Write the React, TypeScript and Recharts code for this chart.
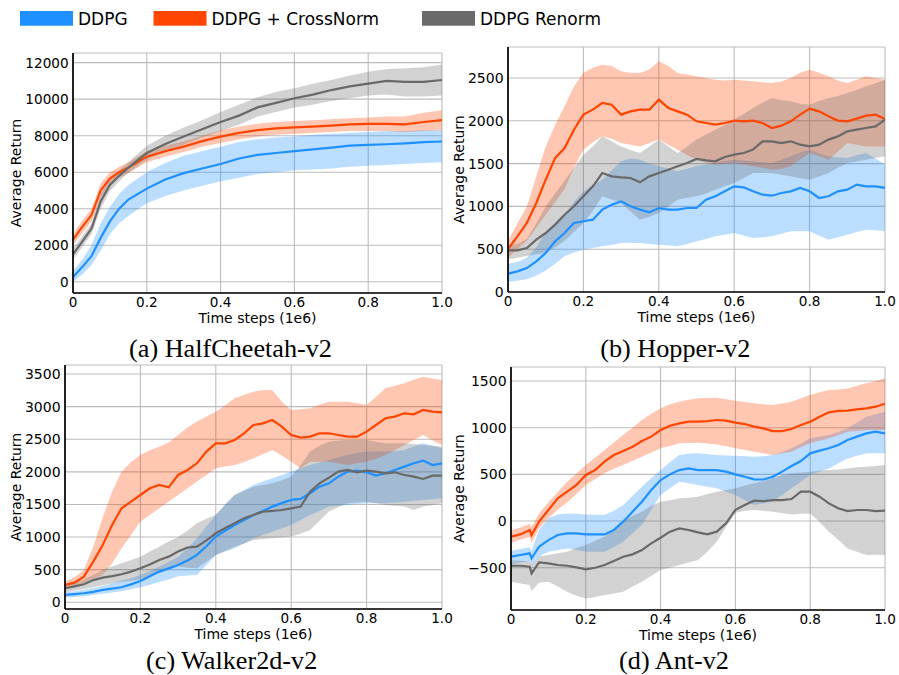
import React from 'react';
import { ComposedChart, Area, Line, XAxis, YAxis, CartesianGrid } from 'recharts';

// ---------- colours and fonts ----------
const BLUE = '#1E90FF';
const ORANGE = '#FF4500';
const GRAY = '#696969';
const SANS = '"DejaVu Sans", "Noto Sans", sans-serif';
const SERIF = '"Liberation Serif", "DejaVu Serif", serif';

// ---------- shared tick labels ----------
const xTicks = [0, 0.2, 0.4, 0.6, 0.8, 1.0];
const legendLabels = ['DDPG', 'DDPG + CrossNorm', 'DDPG Renorm'];

// ---------- (a) HalfCheetah-v2 ----------
const hcSteps = [0, 0.025, 0.05, 0.075, 0.1, 0.125, 0.15, 0.2, 0.25, 0.3, 0.35, 0.4, 0.45, 0.5, 0.55, 0.6, 0.65, 0.7, 0.75, 0.8, 0.85, 0.9, 0.95, 1.0];
const hcDdpg = [250, 800, 1400, 2400, 3300, 4000, 4500, 5100, 5600, 5950, 6200, 6450, 6750, 6950, 7050, 7150, 7250, 7350, 7450, 7500, 7530, 7580, 7650, 7680];
const hcDdpgLo = [0, 400, 900, 1700, 2600, 3200, 3600, 4300, 4700, 5000, 5250, 5500, 5700, 5900, 6000, 6100, 6150, 6200, 6300, 6350, 6400, 6450, 6500, 6550];
const hcDdpgHi = [600, 1200, 2000, 3200, 4100, 4800, 5300, 6000, 6500, 6900, 7150, 7400, 7650, 7800, 7900, 7950, 8050, 8100, 8150, 8200, 8250, 8250, 8300, 8300];
const hcCross = [2300, 3000, 3650, 5000, 5650, 6000, 6250, 6850, 7150, 7400, 7700, 7950, 8150, 8300, 8400, 8450, 8500, 8550, 8620, 8650, 8650, 8620, 8750, 8850];
const hcCrossLo = [2000, 2650, 3300, 4600, 5300, 5700, 5950, 6550, 6850, 7100, 7400, 7600, 7800, 7950, 8050, 8100, 8150, 8200, 8250, 8250, 8250, 8200, 8250, 8300];
const hcCrossHi = [2600, 3350, 4000, 5400, 6000, 6300, 6550, 7150, 7450, 7700, 8000, 8300, 8500, 8650, 8750, 8800, 8850, 8900, 8950, 9000, 9050, 9050, 9250, 9400];
const hcRenorm = [1500, 2200, 2900, 4400, 5300, 5800, 6250, 7050, 7550, 7950, 8350, 8750, 9100, 9550, 9800, 10050, 10250, 10500, 10700, 10850, 11000, 10950, 10950, 11050];
const hcRenormLo = [1200, 1900, 2600, 4000, 4950, 5500, 5950, 6700, 7150, 7500, 7900, 8250, 8600, 9050, 9300, 9550, 9700, 9900, 10050, 10200, 10250, 10150, 10150, 10200];
const hcRenormHi = [1800, 2500, 3200, 4800, 5650, 6100, 6550, 7450, 8000, 8450, 8850, 9300, 9700, 10100, 10400, 10600, 10850, 11050, 11300, 11500, 11650, 11700, 11750, 11900];
const hcYTicks = [0, 2000, 4000, 6000, 8000, 10000, 12000];

// ---------- time grid used by Hopper and Walker2d ----------
const fineSteps = [0, 0.025, 0.05, 0.075, 0.1, 0.125, 0.15, 0.175, 0.2, 0.225, 0.25, 0.275, 0.3, 0.325, 0.35, 0.375, 0.4, 0.425, 0.45, 0.475, 0.5, 0.525, 0.55, 0.575, 0.6, 0.625, 0.65, 0.675, 0.7, 0.725, 0.75, 0.775, 0.8, 0.825, 0.85, 0.875, 0.9, 0.925, 0.95, 0.975, 1.0];

// ---------- (b) Hopper-v2 ----------
const hopDdpg = [214, 241, 280, 358, 456, 592, 689, 806, 826, 845, 962, 1020, 1059, 1001, 962, 931, 981, 962, 962, 981, 981, 1079, 1118, 1176, 1234, 1223, 1176, 1137, 1125, 1157, 1176, 1215, 1176, 1098, 1118, 1176, 1195, 1254, 1234, 1234, 1215];
const hopDdpgLo = [120, 130, 150, 190, 250, 330, 417, 460, 494, 515, 533, 550, 572, 575, 572, 560, 553, 545, 533, 560, 592, 620, 650, 670, 689, 660, 631, 640, 650, 680, 709, 710, 709, 660, 611, 640, 670, 700, 728, 720, 709];
const hopDdpgHi = [330, 350, 400, 520, 700, 800, 900, 1050, 1176, 1250, 1312, 1420, 1526, 1560, 1546, 1500, 1468, 1440, 1410, 1440, 1468, 1490, 1507, 1530, 1546, 1535, 1526, 1515, 1507, 1545, 1585, 1630, 1663, 1620, 1585, 1575, 1565, 1600, 1624, 1560, 1488];
const hopCross = [502, 650, 806, 1040, 1312, 1565, 1682, 1896, 2072, 2130, 2208, 2188, 2072, 2110, 2130, 2130, 2247, 2150, 2110, 2072, 1994, 1974, 1955, 1974, 2002, 1994, 2002, 1974, 1916, 1943, 1994, 2072, 2142, 2110, 2052, 2002, 1994, 2025, 2060, 2072, 2021];
const hopCrossLo = [400, 500, 600, 750, 900, 1050, 1200, 1450, 1663, 1750, 1818, 1790, 1740, 1720, 1700, 1740, 1780, 1720, 1663, 1600, 1546, 1510, 1488, 1495, 1507, 1490, 1468, 1450, 1429, 1440, 1468, 1550, 1624, 1590, 1546, 1640, 1740, 1720, 1700, 1700, 1700];
const hopCrossHi = [600, 800, 1000, 1350, 1700, 1950, 2170, 2400, 2560, 2620, 2656, 2640, 2578, 2560, 2558, 2600, 2695, 2640, 2558, 2540, 2520, 2500, 2480, 2470, 2480, 2470, 2461, 2450, 2441, 2460, 2500, 2560, 2597, 2560, 2520, 2470, 2441, 2480, 2520, 2500, 2480];
const hopRenorm = [487, 487, 514, 611, 689, 787, 903, 1001, 1118, 1234, 1390, 1351, 1340, 1332, 1281, 1351, 1390, 1429, 1468, 1507, 1554, 1538, 1527, 1577, 1604, 1624, 1663, 1760, 1760, 1740, 1760, 1721, 1702, 1721, 1780, 1818, 1877, 1896, 1916, 1935, 2013];
const hopRenormLo = [380, 400, 420, 440, 456, 520, 600, 700, 806, 950, 1118, 1080, 1040, 940, 845, 880, 923, 1000, 1079, 1100, 1118, 1150, 1195, 1235, 1273, 1330, 1390, 1390, 1390, 1370, 1351, 1330, 1312, 1350, 1390, 1450, 1507, 1525, 1546, 1565, 1585];
const hopRenormHi = [550, 560, 620, 800, 1000, 1150, 1300, 1450, 1600, 1700, 1818, 1760, 1700, 1660, 1624, 1700, 1780, 1700, 1624, 1700, 1780, 1840, 1896, 1950, 2013, 2080, 2150, 2210, 2266, 2240, 2227, 2200, 2188, 2230, 2266, 2290, 2325, 2360, 2403, 2440, 2480];
const hopYTicks = [0, 500, 1000, 1500, 2000, 2500];

// ---------- (c) Walker2d-v2 ----------
const walkDdpg = [112, 125, 138, 160, 189, 210, 230, 275, 327, 400, 470, 520, 572, 640, 726, 860, 1007, 1100, 1185, 1260, 1339, 1400, 1467, 1520, 1569, 1584, 1671, 1773, 1824, 1926, 2003, 2018, 1993, 1942, 1978, 2029, 2080, 2131, 2172, 2105, 2131];
const walkDdpgLo = [70, 80, 90, 110, 130, 150, 170, 200, 230, 270, 310, 350, 400, 410, 419, 570, 726, 780, 828, 900, 981, 1030, 1083, 1135, 1185, 1260, 1339, 1400, 1467, 1480, 1492, 1505, 1518, 1518, 1518, 1530, 1543, 1555, 1569, 1580, 1594];
const walkDdpgHi = [150, 170, 190, 220, 250, 290, 330, 370, 420, 480, 550, 620, 700, 830, 981, 1160, 1339, 1500, 1645, 1720, 1799, 1850, 1901, 1950, 2003, 2055, 2105, 2145, 2182, 2220, 2259, 2290, 2310, 2310, 2310, 2320, 2335, 2390, 2437, 2400, 2361];
const walkCross = [266, 301, 393, 623, 879, 1185, 1441, 1543, 1645, 1748, 1799, 1763, 1952, 2029, 2131, 2310, 2437, 2437, 2488, 2591, 2718, 2744, 2795, 2693, 2565, 2524, 2540, 2591, 2591, 2565, 2540, 2540, 2616, 2718, 2821, 2846, 2897, 2882, 2948, 2923, 2913];
const walkCrossLo = [220, 250, 300, 360, 419, 600, 828, 1030, 1237, 1340, 1441, 1540, 1645, 1750, 1850, 1950, 2054, 2080, 2105, 2150, 2207, 2270, 2335, 2250, 2156, 2054, 2156, 2156, 2156, 2130, 2105, 2130, 2156, 2200, 2259, 2330, 2412, 2490, 2565, 2480, 2412];
const walkCrossHi = [320, 380, 500, 850, 1300, 1700, 2003, 2150, 2259, 2330, 2386, 2450, 2565, 2680, 2770, 2850, 2923, 3020, 3127, 3180, 3229, 3250, 3255, 3076, 2948, 2960, 2974, 3030, 3076, 3076, 3076, 3050, 3025, 3150, 3280, 3320, 3357, 3410, 3459, 3430, 3408];
const walkRenorm = [215, 245, 276, 340, 378, 400, 429, 470, 521, 580, 649, 700, 777, 840, 853, 950, 1058, 1140, 1211, 1290, 1339, 1390, 1400, 1415, 1441, 1467, 1697, 1824, 1911, 2003, 2029, 1993, 2018, 2003, 1978, 1993, 1952, 1926, 1891, 1942, 1942];
const walkRenormLo = [150, 180, 200, 230, 260, 290, 310, 330, 350, 400, 450, 500, 550, 530, 521, 620, 726, 790, 853, 900, 956, 970, 981, 995, 1007, 1050, 1109, 1250, 1390, 1460, 1518, 1530, 1543, 1520, 1492, 1480, 1467, 1415, 1467, 1490, 1518];
const walkRenormHi = [280, 300, 350, 420, 500, 550, 600, 650, 700, 780, 850, 930, 1000, 1100, 1211, 1280, 1339, 1500, 1645, 1710, 1773, 1800, 1824, 1870, 1926, 2100, 2310, 2400, 2463, 2480, 2488, 2490, 2488, 2460, 2437, 2437, 2437, 2425, 2412, 2400, 2386];
const walkYTicks = [0, 500, 1000, 1500, 2000, 2500, 3000, 3500];

// ---------- (d) Ant-v2 ----------
const antSteps = [0, 0.025, 0.05, 0.055, 0.075, 0.1, 0.125, 0.15, 0.175, 0.2, 0.225, 0.25, 0.275, 0.3, 0.325, 0.35, 0.375, 0.4, 0.425, 0.45, 0.475, 0.5, 0.525, 0.55, 0.575, 0.6, 0.625, 0.65, 0.675, 0.7, 0.725, 0.75, 0.775, 0.8, 0.825, 0.85, 0.875, 0.9, 0.925, 0.95, 0.975, 1.0];
const antDdpg = [-382, -364, -346, -400, -275, -204, -150, -132, -132, -143, -143, -143, -96, -7, 100, 207, 332, 439, 500, 546, 564, 546, 546, 546, 529, 500, 475, 446, 445, 475, 529, 589, 643, 725, 754, 779, 814, 868, 904, 939, 957, 939];
const antDdpgLo = [-460, -445, -430, -480, -380, -329, -310, -293, -310, -329, -329, -329, -280, -221, -130, -43, 120, 279, 350, 421, 405, 386, 368, 350, 315, 279, 225, 171, 190, 207, 280, 350, 420, 493, 530, 564, 620, 671, 700, 725, 725, 725];
const antDdpgHi = [-320, -300, -280, -320, -100, 29, 70, 82, 78, 71, 68, 64, 110, 171, 270, 368, 460, 546, 630, 707, 720, 725, 715, 707, 703, 700, 695, 689, 695, 707, 740, 779, 830, 886, 905, 921, 955, 993, 1055, 1118, 1145, 1171];
const antCross = [-168, -143, -96, -150, -7, 118, 243, 314, 386, 493, 546, 636, 707, 750, 796, 857, 904, 975, 1021, 1046, 1064, 1064, 1071, 1082, 1075, 1054, 1039, 1011, 993, 964, 964, 986, 1029, 1064, 1118, 1164, 1179, 1182, 1196, 1207, 1225, 1257];
const antCrossLo = [-230, -200, -170, -230, -80, 30, 120, 200, 290, 386, 450, 511, 560, 600, 645, 689, 735, 779, 805, 832, 836, 839, 830, 821, 800, 779, 760, 743, 725, 707, 725, 743, 790, 832, 860, 886, 920, 957, 965, 975, 975, 975];
const antCrossHi = [-100, -70, -30, -60, 80, 200, 310, 420, 510, 600, 680, 761, 840, 921, 1000, 1082, 1150, 1207, 1250, 1279, 1300, 1314, 1318, 1321, 1305, 1289, 1275, 1261, 1250, 1243, 1260, 1279, 1315, 1350, 1380, 1404, 1410, 1421, 1450, 1475, 1500, 1529];
const antRenorm = [-479, -479, -489, -561, -443, -454, -471, -479, -496, -518, -500, -471, -429, -382, -357, -311, -239, -179, -114, -79, -96, -121, -143, -114, -25, 120, 171, 218, 214, 225, 225, 236, 314, 314, 261, 189, 136, 107, 118, 118, 107, 111];
const antRenormLo = [-650, -670, -686, -750, -660, -650, -700, -757, -800, -829, -815, -793, -775, -757, -700, -650, -590, -525, -500, -471, -445, -418, -330, -221, -60, 90, 110, 118, 110, 100, 85, 71, 78, 82, -10, -114, -200, -293, -330, -364, -360, -364];
const antRenormHi = [-420, -425, -430, -470, -380, -364, -345, -329, -290, -257, -210, -168, -80, 11, 55, 100, 160, 207, 222, 243, 250, 261, 290, 314, 330, 350, 380, 404, 425, 457, 490, 511, 518, 529, 540, 546, 552, 564, 575, 582, 590, 600];
const antYTicks = [-500, 0, 500, 1000, 1500];

// ---------- panel assembly ----------
type Series = { mean: number[]; lo: number[]; hi: number[] };
type PanelSpec = {
  caption: string;
  captionX: number;
  captionY: number;
  steps: number[];
  ddpg: Series;
  cross: Series;
  renorm: Series;
  yDomain: [number, number];
  yTicks: number[];
  yTickSize: number;
  plot: { left: number; top: number; width: number; height: number };
  yLabelGap: number;
};

const panels: PanelSpec[] = [
  {
    caption: '(a) HalfCheetah-v2', captionX: 230.5, captionY: 356.7,
    steps: hcSteps,
    ddpg: { mean: hcDdpg, lo: hcDdpgLo, hi: hcDdpgHi },
    cross: { mean: hcCross, lo: hcCrossLo, hi: hcCrossHi },
    renorm: { mean: hcRenorm, lo: hcRenormLo, hi: hcRenormHi },
    yDomain: [-620, 12530], yTicks: hcYTicks, yTickSize: 13.6,
    plot: { left: 73, top: 53, width: 369, height: 240 }, yLabelGap: 57,
  },
  {
    caption: '(b) Hopper-v2', captionX: 675.3, captionY: 356.7,
    steps: fineSteps,
    ddpg: { mean: hopDdpg, lo: hopDdpgLo, hi: hopDdpgHi },
    cross: { mean: hopCross, lo: hopCrossLo, hi: hopCrossHi },
    renorm: { mean: hopRenorm, lo: hopRenormLo, hi: hopRenormHi },
    yDomain: [0, 2862], yTicks: hopYTicks, yTickSize: 14,
    plot: { left: 508, top: 47, width: 377, height: 245 }, yLabelGap: 49,
  },
  {
    caption: '(c) Walker2d-v2', captionX: 231.7, captionY: 668.5,
    steps: fineSteps,
    ddpg: { mean: walkDdpg, lo: walkDdpgLo, hi: walkDdpgHi },
    cross: { mean: walkCross, lo: walkCrossLo, hi: walkCrossHi },
    renorm: { mean: walkRenorm, lo: walkRenormLo, hi: walkRenormHi },
    yDomain: [-103, 3638], yTicks: walkYTicks, yTickSize: 14,
    plot: { left: 65, top: 365, width: 377, height: 244 }, yLabelGap: 49.5,
  },
  {
    caption: '(d) Ant-v2', captionX: 674, captionY: 668.5,
    steps: antSteps,
    ddpg: { mean: antDdpg, lo: antDdpgLo, hi: antDdpgHi },
    cross: { mean: antCross, lo: antCrossLo, hi: antCrossHi },
    renorm: { mean: antRenorm, lo: antRenormLo, hi: antRenormHi },
    yDomain: [-953, 1650], yTicks: antYTicks, yTickSize: 14,
    plot: { left: 511, top: 367, width: 374, height: 243 }, yLabelGap: 52,
  },
];

function buildRows(p: PanelSpec) {
  return p.steps.map((t, i) => ({
    t,
    ddpg: p.ddpg.mean[i],
    ddpgBand: [p.ddpg.lo[i], p.ddpg.hi[i]],
    cross: p.cross.mean[i],
    crossBand: [p.cross.lo[i], p.cross.hi[i]],
    renorm: p.renorm.mean[i],
    renormBand: [p.renorm.lo[i], p.renorm.hi[i]],
  }));
}

const fmtX = (v: number) => (v === 0 ? '0' : v.toFixed(1));
const fmtY = (v: number) => String(v).replace('-', '\u2212');

const Y_AXIS_W = 72;
const M_TOP = 6;
const M_RIGHT = 16;
const X_AXIS_H = 40;

function Panel({ spec }: { spec: PanelSpec }) {
  const { plot } = spec;
  const rows = buildRows(spec);
  const width = Y_AXIS_W + plot.width + M_RIGHT;
  const height = M_TOP + plot.height + X_AXIS_H;
  const axisLine = { stroke: '#000', strokeWidth: 1.7 };
  return (
    <div style={{ position: 'absolute', left: plot.left - Y_AXIS_W, top: plot.top - M_TOP }}>
      <ComposedChart
        width={width}
        height={height}
        data={rows}
        margin={{ top: M_TOP, right: M_RIGHT, left: 0, bottom: 0 }}
      >
        <CartesianGrid stroke="#bcbcbc" strokeWidth={1.1} />
        <XAxis
          type="number"
          dataKey="t"
          domain={[0, 1]}
          ticks={xTicks}
          tickFormatter={fmtX}
          height={X_AXIS_H}
          tickSize={0}
          tickMargin={4.5}
          tickLine={false}
          axisLine={axisLine}
          tick={{ fontSize: 13.6, fill: '#000', fontFamily: SANS }}
          allowDataOverflow
        />
        <YAxis
          type="number"
          domain={spec.yDomain}
          ticks={spec.yTicks}
          tickFormatter={fmtY}
          width={Y_AXIS_W}
          tickSize={0}
          tickMargin={4.4}
          tickLine={false}
          axisLine={axisLine}
          tick={{ fontSize: spec.yTickSize, fill: '#000', fontFamily: SANS }}
          allowDataOverflow
        />
        <Area dataKey="ddpgBand" type="linear" stroke="none" fill={BLUE} fillOpacity={0.3} isAnimationActive={false} dot={false} activeDot={false} />
        <Area dataKey="crossBand" type="linear" stroke="none" fill={ORANGE} fillOpacity={0.3} isAnimationActive={false} dot={false} activeDot={false} />
        <Area dataKey="renormBand" type="linear" stroke="none" fill={GRAY} fillOpacity={0.3} isAnimationActive={false} dot={false} activeDot={false} />
        <Line dataKey="ddpg" type="linear" stroke={BLUE} strokeWidth={2.2} dot={false} activeDot={false} isAnimationActive={false} />
        <Line dataKey="cross" type="linear" stroke={ORANGE} strokeWidth={2.2} dot={false} activeDot={false} isAnimationActive={false} />
        <Line dataKey="renorm" type="linear" stroke={GRAY} strokeWidth={2.2} dot={false} activeDot={false} isAnimationActive={false} />
      </ComposedChart>
    </div>
  );
}

const legendItems = [
  { label: legendLabels[0], color: BLUE, x: 20 },
  { label: legendLabels[1], color: ORANGE, x: 153.5 },
  { label: legendLabels[2], color: GRAY, x: 422 },
];

export default function App() {
  return (
    <div style={{ position: 'absolute', left: 0, top: 0, width: 899, height: 675, background: '#fff', overflow: 'hidden' }}>
      {panels.map((p) => (
        <Panel key={p.caption} spec={p} />
      ))}
      <svg width={899} height={675} style={{ position: 'absolute', left: 0, top: 0, pointerEvents: 'none' }}>
        {legendItems.map((it) => (
          <g key={it.label}>
            <rect x={it.x} y={11} width={53} height={14.7} fill={it.color} />
            <text x={it.x + 58} y={25.3} fontFamily={SANS} fontSize={17} fill="#000">
              {it.label}
            </text>
          </g>
        ))}
        {panels.map((p) => {
          const cx = p.plot.left - p.yLabelGap;
          const cy = p.plot.top + p.plot.height / 2;
          return (
            <g key={p.caption}>
              <text
                x={cx}
                y={cy}
                transform={`rotate(-90 ${cx} ${cy})`}
                textAnchor="middle"
                dominantBaseline="central"
                fontFamily={SANS}
                fontSize={14}
                fill="#000"
              >
                Average Return
              </text>
              <text
                x={p.plot.left + p.plot.width / 2}
                y={p.plot.top + p.plot.height + 24.5}
                textAnchor="middle"
                dominantBaseline="central"
                fontFamily={SANS}
                fontSize={14}
                fill="#000"
              >
                Time steps (1e6)
              </text>
              <text x={p.captionX} y={p.captionY} textAnchor="middle" fontFamily={SERIF} fontSize={26.2} fill="#000">
                {p.caption}
              </text>
            </g>
          );
        })}
      </svg>
    </div>
  );
}
